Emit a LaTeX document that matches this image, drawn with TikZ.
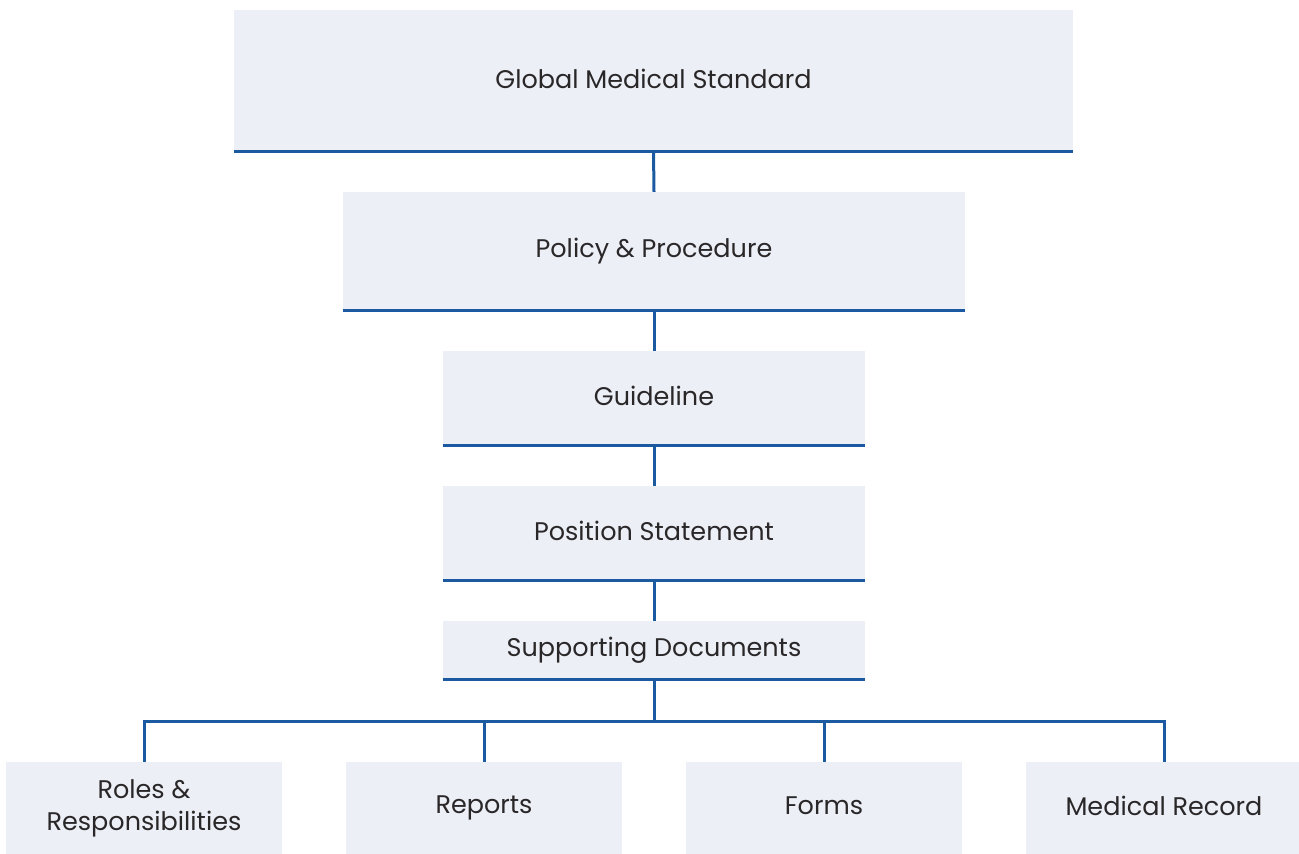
\documentclass[tikz,border=0pt]{standalone}
\usepackage{fontspec}
\setmainfont{Poppins}
\begin{document}
\begin{tikzpicture}[x=1pt,y=-1pt,
  box/.style={rectangle, fill=boxfill, inner sep=0pt, text=textgray,
    font=\fontsize{25.5}{32}\selectfont, align=center,
    execute at begin node=\rule[-0.15em]{0pt}{0.72em}},
  rule/.style={draw=lineblue, line width=3pt},
  link/.style={draw=lineblue, line width=3pt}]
\definecolor{boxfill}{HTML}{ECEFF6}
\definecolor{lineblue}{HTML}{1B5AA0}
\definecolor{textgray}{HTML}{2A2729}
\useasboundingbox (0,0) rectangle (1299,854);

% document hierarchy
\node[box, minimum width=839pt, minimum height=141pt] (gms) at (653.5,80.5) {Global Medical Standard};
\node[box, minimum width=622pt, minimum height=118pt] (pp) at (654,251) {Policy \& Procedure};
\node[box, minimum width=422pt, minimum height=94pt] (gl) at (654,398) {Guideline};
\node[box, minimum width=422pt, minimum height=94pt] (ps) at (654,533) {Position Statement};
\node[box, minimum width=422pt, minimum height=58pt] (sd) at (654,650) {Supporting Documents};

% supporting document types
\node[box, minimum width=276pt, minimum height=92pt] (rr) at (144,808) {Roles \&\\Responsibilities};
\node[box, minimum width=276pt, minimum height=92pt] (rep) at (484,808) {Reports};
\node[box, minimum width=276pt, minimum height=92pt] (frm) at (824,808) {Forms};
\node[box, minimum width=276pt, minimum height=92pt] (mr) at (1164,808) {Medical Record};

% underlines
\foreach \n in {gms,pp,gl,ps,sd}
  \draw[rule] (\n.south west) -- (\n.south east);

% connectors
\draw[link] (gms.south) -- (pp.north);
\draw[link] (pp.south) -- (gl.north);
\draw[link] (gl.south) -- (ps.north);
\draw[link] (ps.south) -- (sd.north);
\coordinate (bus) at (654,721);
\draw[link] (sd.south) -- (bus);
\draw[link] (rr.north) |- (bus) -| (mr.north);
\draw[link] (rep.north) -- (rep.north |- bus);
\draw[link] (frm.north) -- (frm.north |- bus);
\end{tikzpicture}
\end{document}
